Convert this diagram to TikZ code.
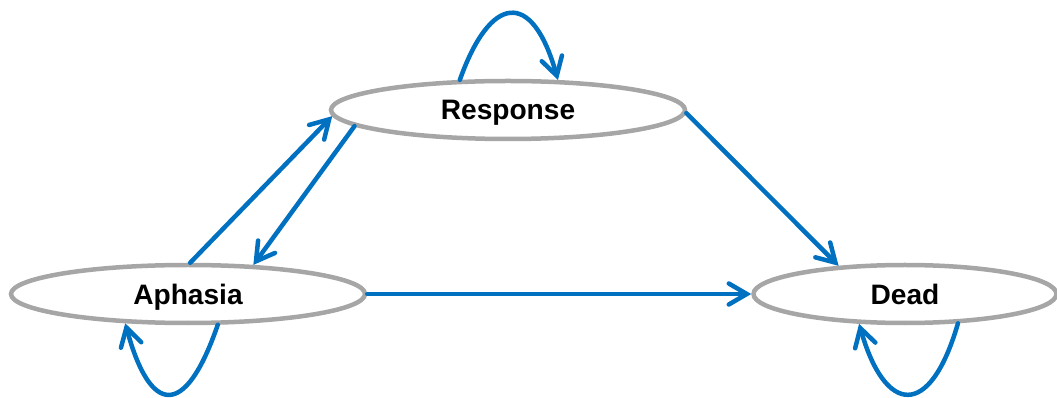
\documentclass[tikz,border=0pt]{standalone}
\usepackage{fontspec}
\setmainfont{Liberation Sans}
\usetikzlibrary{shapes.geometric,arrows.meta}
\definecolor{edgeblue}{HTML}{0070C0}
\definecolor{stategray}{HTML}{A6A6A6}
\begin{document}
\begin{tikzpicture}[x=0.2mm,y=-0.2mm,
  state/.style={ellipse, draw=stategray, line width=0.9mm, fill=white, inner sep=0pt,
    minimum height=11.6mm, text depth=0pt, font=\fontsize{16}{19}\selectfont\bfseries},
  link/.style={draw=edgeblue, line width=0.9mm, line cap=round,
    -{Straight Barb[length=3.6mm,width=4.2mm,line cap=round]}}]
\useasboundingbox (0,0) rectangle (1057,398);
\node[state, minimum width=70.8mm] (resp) at (508,110) {Response};
\node[state, minimum width=70.8mm] (aph) at (188,294) {Aphasia};
\node[state, minimum width=60.6mm] (dead) at (905,294) {Dead};
% straight transitions
\draw[link] (aph.86) -- (resp.182);
\draw[link] (resp.-174) -- (aph.24);
\draw[link] (resp.-1) -- (dead.157);
\draw[link] (aph.east) -- (dead.west);
% self loops
\draw[link] (resp.148) .. controls (490,-5) and (532,-12) .. (resp.31);
\draw[link] (aph.-46) .. controls (185,420) and (150,415) .. (aph.-155);
\draw[link] (dead.-29) .. controls (930,420) and (885,415) .. (dead.-147);
\end{tikzpicture}
\end{document}
